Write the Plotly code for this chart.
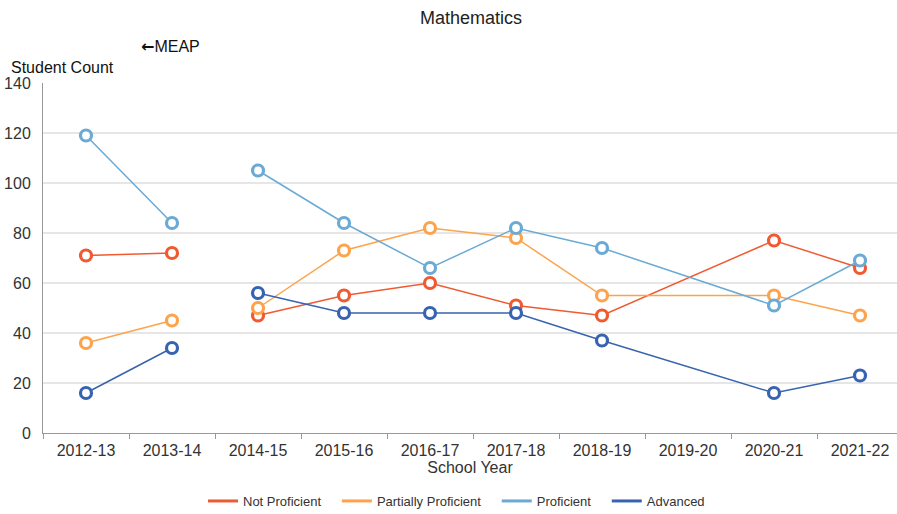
import plotly.graph_objects as go

years = ["2012-13", "2013-14", "2014-15", "2015-16", "2016-17",
         "2017-18", "2018-19", "2019-20", "2020-21", "2021-22"]
not_proficient = [71, 72, 47, 55, 60, 51, 47, None, 77, 66]
partially_proficient = [36, 45, 50, 73, 82, 78, 55, None, 55, 47]
proficient = [119, 84, 105, 84, 66, 82, 74, None, 51, 69]
advanced = [16, 34, 56, 48, 48, 48, 37, None, 16, 23]

series = [
    ("Not Proficient", not_proficient, "#f05a30"),
    ("Partially Proficient", partially_proficient, "#fda34c"),
    ("Proficient", proficient, "#6aaad4"),
    ("Advanced", advanced, "#3763b0"),
]

fig = go.Figure()
# MEAP years (first two) are not joined to the later test years
for name, vals, col in series:
    for a, b in [(0, 2), (2, 10)]:
        fig.add_trace(go.Scatter(
            x=years[a:b], y=vals[a:b], name=name, mode="lines+markers",
            connectgaps=True, showlegend=False, legendgroup=name,
            line=dict(color=col, width=1.5),
            marker=dict(symbol="circle", size=11, color="white",
                        line=dict(color=col, width=3.2)),
        ))
    # legend entry shows a plain line only; padded to widen the spacing
    fig.add_trace(go.Scatter(x=[None], y=[None], name=name + "\u00a0" * 3,
                             mode="lines", legendgroup=name,
                             line=dict(color=col, width=3)))

L, R, T, B = 43, 0, 83, 81
W, H = 897, 514
pw, ph = W - L - R, H - T - B

def px(x, y):
    return (x - L) / pw, (H - B - y) / ph

fig.update_layout(
    width=W, height=H,
    plot_bgcolor="white", paper_bgcolor="white",
    font=dict(family="Liberation Sans, Arial", size=16, color="#333333"),
    margin=dict(l=L, r=R, t=T, b=B, autoexpand=False),
    title=dict(text="Mathematics", x=0.525, xanchor="center", y=1 - 18 / H,
               yref="container", yanchor="middle",
               font=dict(size=18, color="#222222")),
    legend=dict(orientation="h", x=px(462, 0)[0], xanchor="center",
                y=px(0, 501)[1], yanchor="middle",
                font=dict(size=13), itemwidth=30, tracegroupgap=0),
    annotations=[
        dict(text="<span style='font-family:DejaVu Sans'><b>←</b></span>MEAP",
             x=px(170, 0)[0], y=px(0, 46)[1],
             xref="paper", yref="paper", showarrow=False,
             xanchor="center", yanchor="middle",
             font=dict(size=16, color="#111111")),
        dict(text="Student Count", x=px(9, 0)[0], y=px(0, 68)[1], xref="paper",
             yref="paper", xanchor="left", yanchor="middle", showarrow=False,
             font=dict(size=16, color="#111111")),
    ],
)

fig.update_xaxes(
    type="category", range=[-0.5, 9.43], tickson="boundaries",
    ticks="outside", ticklen=5, tickcolor="#999999", automargin=False,
    showline=True, linecolor="#999999", linewidth=1, showgrid=False,
    ticklabelstandoff=3,
    title=dict(text="School Year", standoff=0, font=dict(size=16)),
)
fig.update_yaxes(
    range=[0, 140], dtick=20, showgrid=True, gridcolor="#e6e6e6", gridwidth=1.5,
    showline=True, linecolor="#999999", linewidth=1, zeroline=False,
    ticks="", ticklabelstandoff=8, automargin=False,
)

# page body has a default margin; remove it so the figure sits at (0, 0)
fig.write_html("out.html", config={"displayModeBar": False},
               post_script="document.body.style.margin='0';")
